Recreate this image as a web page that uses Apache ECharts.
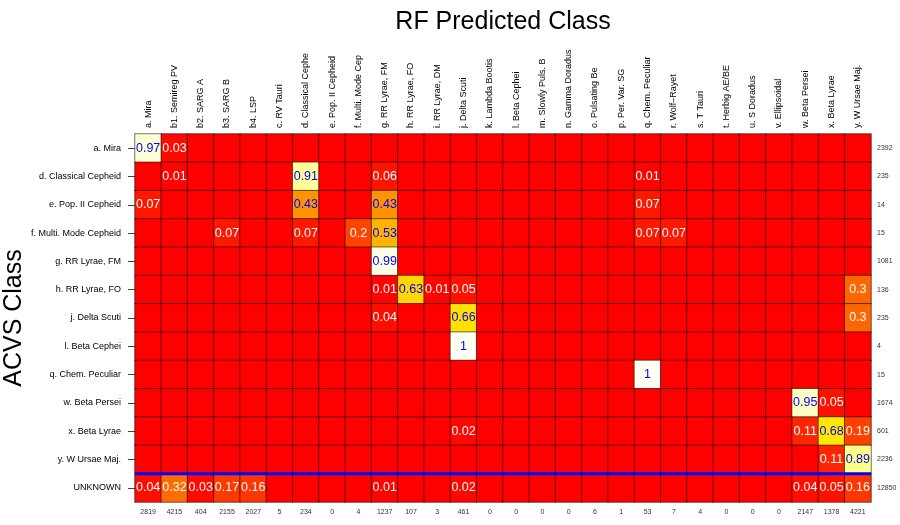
<!DOCTYPE html>
<html>
<head>
<meta charset="utf-8">
<script src="https://cdn.jsdelivr.net/npm/echarts@6/dist/echarts.min.js"></script>
<style>
html, body { margin: 0; padding: 0; background: #fff; }
#chart { width: 900px; height: 525px; }
</style>
</head>
<body>
<div id="chart"></div>
<script>
// predicted (columns) and true (rows) class names
var predictedClasses = ['a. Mira', 'b1. Semireg PV', 'b2. SARG A', 'b3. SARG B', 'b4. LSP', 'c. RV Tauri',
    'd. Classical Cephe', 'e. Pop. II Cepheid', 'f. Multi. Mode Cep', 'g. RR Lyrae, FM', 'h. RR Lyrae, FO',
    'i. RR Lyrae, DM', 'j. Delta Scuti', 'k. Lambda Bootis', 'l. Beta Cephei', 'm. Slowly Puls. B',
    'n. Gamma Doradus', 'o. Pulsating Be', 'p. Per. Var. SG', 'q. Chem. Peculiar', 'r. Wolf\u2013Rayet',
    's. T Tauri', 't. Herbig AE/BE', 'u. S Doradus', 'v. Ellipsoidal', 'w. Beta Persei', 'x. Beta Lyrae',
    'y. W Ursae Maj.'];
var acvsClasses = ['a. Mira', 'd. Classical Cepheid', 'e. Pop. II Cepheid', 'f. Multi. Mode Cepheid',
    'g. RR Lyrae, FM', 'h. RR Lyrae, FO', 'j. Delta Scuti', 'l. Beta Cephei', 'q. Chem. Peculiar',
    'w. Beta Persei', 'x. Beta Lyrae', 'y. W Ursae Maj.', 'UNKNOWN'];
var rowTotals = [2392, 235, 14, 15, 1081, 136, 235, 4, 15, 1674, 601, 2236, 12850];
var colTotals = [2819, 4215, 404, 2155, 2027, 5, 234, 0, 4, 1237, 107, 3, 461, 0, 0, 0, 0, 6, 1, 53, 7, 4, 0, 0, 0, 2147, 1378, 4221];

// fraction of each ACVS class predicted as each RF class (cols 0-9 | 10-19 | 20-27)
var fractions = [
    [0.97,0.03,0,0,0,0,0,0,0,0,       0,0,0,0,0,0,0,0,0,0,       0,0,0,0,0,0,0,0],
    [0,0.01,0,0,0,0,0.91,0,0,0.06,    0,0,0,0,0,0,0,0,0,0.01,    0,0,0,0,0,0,0,0],
    [0.07,0,0,0,0,0,0.43,0,0,0.43,    0,0,0,0,0,0,0,0,0,0.07,    0,0,0,0,0,0,0,0],
    [0,0,0,0.07,0,0,0.07,0,0.2,0.53,  0,0,0,0,0,0,0,0,0,0.07,    0.07,0,0,0,0,0,0,0],
    [0,0,0,0,0,0,0,0,0,0.99,          0,0,0,0,0,0,0,0,0,0,       0,0,0,0,0,0,0,0],
    [0,0,0,0,0,0,0,0,0,0.01,          0.63,0.01,0.05,0,0,0,0,0,0,0, 0,0,0,0,0,0,0,0.3],
    [0,0,0,0,0,0,0,0,0,0.04,          0,0,0.66,0,0,0,0,0,0,0,    0,0,0,0,0,0,0,0.3],
    [0,0,0,0,0,0,0,0,0,0,             0,0,1,0,0,0,0,0,0,0,       0,0,0,0,0,0,0,0],
    [0,0,0,0,0,0,0,0,0,0,             0,0,0,0,0,0,0,0,0,1,       0,0,0,0,0,0,0,0],
    [0,0,0,0,0,0,0,0,0,0,             0,0,0,0,0,0,0,0,0,0,       0,0,0,0,0,0.95,0.05,0],
    [0,0,0,0,0,0,0,0,0,0,             0,0,0.02,0,0,0,0,0,0,0,    0,0,0,0,0,0.11,0.68,0.19],
    [0,0,0,0,0,0,0,0,0,0,             0,0,0,0,0,0,0,0,0,0,       0,0,0,0,0,0,0.11,0.89],
    [0.04,0.32,0.03,0.17,0.16,0,0,0,0,0.01, 0,0,0.02,0,0,0,0,0,0,0, 0,0,0,0,0,0.04,0.05,0.16]
];
var knownRows = 12; // rows above the blue separator

var FONT = 'Liberation Sans';
var myChart = echarts.init(document.getElementById('chart'));

var cells = [];
fractions.forEach(function (row, r) {
    row.forEach(function (v, c) {
        cells.push({
            value: [c, r, v],
            label: { color: v >= 0.4 ? '#0000ff' : '#ffffff' }
        });
    });
});

var option = {
    backgroundColor: '#fff',
    animation: false,
    textStyle: { fontFamily: FONT },
    title: {
        text: 'RF Predicted Class',
        left: 498,
        top: 5,
        textAlign: 'center',
        textStyle: { fontFamily: FONT, fontSize: 25, fontWeight: 'normal', color: '#000' }
    },
    grid: { left: 135, right: 29, top: 134, bottom: 23, containLabel: false, outerBoundsMode: 'none' },
    visualMap: {
        show: false,
        min: 0,
        max: 1,
        dimension: 2,
        seriesIndex: 0,
        inRange: { color: ['#ff0000', '#ff5500', '#ffaa00', '#ffff00', '#fffff2'] }
    },
    xAxis: [{
        type: 'category',
        position: 'top',
        data: predictedClasses,
        axisLine: { show: false },
        axisTick: { show: false },
        axisLabel: { rotate: 90, interval: 0, fontSize: 9, color: '#000', margin: 6, fontFamily: FONT }
    }, {
        type: 'category',
        position: 'bottom',
        data: colTotals.map(String),
        axisLine: { show: false },
        axisTick: { show: false },
        axisLabel: { interval: 0, fontSize: 7, color: '#333', margin: 7, fontFamily: FONT }
    }, {
        type: 'value',
        min: 0,
        max: predictedClasses.length,
        show: false
    }],
    yAxis: [{
        type: 'category',
        position: 'left',
        inverse: true,
        data: acvsClasses,
        name: 'ACVS Class',
        nameLocation: 'middle',
        nameRotate: 90,
        nameGap: 108,
        nameMoveOverlap: false,
        nameTextStyle: { fontFamily: FONT, fontSize: 25, color: '#000' },
        axisLine: { show: true, lineStyle: { color: '#777', width: 1 } },
        axisTick: { show: true, alignWithLabel: true, length: 7, lineStyle: { color: '#444' } },
        axisLabel: { interval: 0, fontSize: 9, color: '#000', margin: 14, fontFamily: FONT }
    }, {
        type: 'category',
        position: 'right',
        inverse: true,
        data: rowTotals.map(String),
        axisLine: { show: false },
        axisTick: { show: false },
        axisLabel: { interval: 0, fontSize: 7, color: '#333', margin: 6, fontFamily: FONT }
    }, {
        type: 'value',
        min: 0,
        max: acvsClasses.length,
        inverse: true,
        show: false
    }],
    series: [{
        type: 'heatmap',
        xAxisIndex: 0,
        yAxisIndex: 0,
        data: cells,
        itemStyle: { borderColor: 'rgba(0,0,0,0.55)', borderWidth: 1 },
        label: {
            show: true,
            fontSize: 12.5,
            fontFamily: FONT,
            formatter: function (p) {
                var v = p.value[2];
                return v === 0 ? '' : String(v);
            }
        },
        emphasis: { disabled: true }
    }, {
        type: 'line',
        xAxisIndex: 2,
        yAxisIndex: 2,
        data: [[0, knownRows], [predictedClasses.length, knownRows]],
        symbol: 'none',
        silent: true,
        z: 5,
        lineStyle: { color: '#0000ff', width: 3 }
    }]
};

myChart.setOption(option);
</script>
</body>
</html>
